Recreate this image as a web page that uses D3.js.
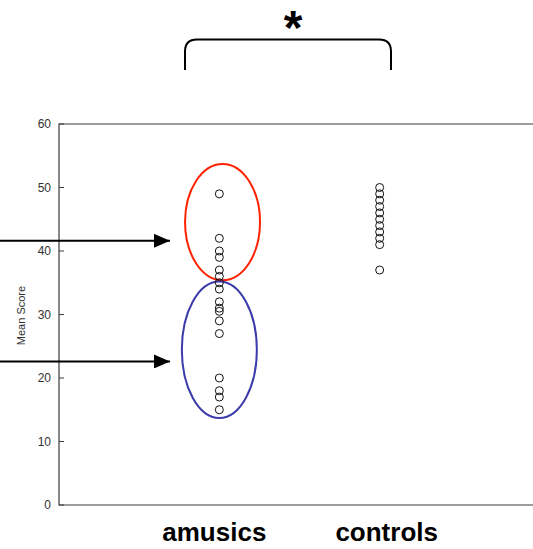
<!DOCTYPE html>
<html>
<head>
<meta charset="utf-8">
<script src="https://cdn.jsdelivr.net/npm/d3@7"></script>
<style>
  body { margin: 0; background: #fff; }
  svg { display: block; font-family: "Liberation Sans", Arial, sans-serif; }
</style>
</head>
<body>
<svg id="chart" width="533" height="549"></svg>
<script>
// Data
const groups = ["amusics", "controls"];
const groupPos = [1, 2];
const amusicsScores = [49, 42, 40, 39, 37, 36, 35, 34, 32, 31, 30.5, 29, 27, 20, 18, 17, 15];
const controlsScores = [50, 49, 48, 47, 46, 45, 44, 43, 42, 41, 37];
const yTicks = [0, 10, 20, 30, 40, 50, 60];
// ellipse annotations (group index, low score, high score)
const clusters = [
  { group: 1, dx: 0.02, lo: 35.4, hi: 53.7, color: "#ff2200" },
  { group: 1, dx: 0, lo: 13.7, hi: 35.2, color: "#3a3aaa" }
];
const arrowScores = [41.6, 22.6];

const svg = d3.select("#chart");
const plotLeft = 59, plotRight = 540, plotTop = 124, plotBottom = 505;

const x = d3.scaleLinear().domain([0, 3]).range([plotLeft, plotRight]);
const y = d3.scaleLinear().domain([0, 60]).range([plotBottom, plotTop]);

// frame: left axis, top and bottom lines
svg.append("path")
   .attr("d", `M533,${plotTop}H${plotLeft}V${plotBottom}H533`)
   .attr("fill", "none")
   .attr("stroke", "#3a3a3a")
   .attr("stroke-width", 1.2);

// y axis ticks (inward) and labels
const yAxis = svg.append("g").attr("transform", `translate(${plotLeft},0)`);
yAxis.selectAll("line")
     .data(yTicks)
     .enter().append("line")
     .attr("x1", 0).attr("x2", 5)
     .attr("y1", d => y(d)).attr("y2", d => y(d))
     .attr("stroke", "#3a3a3a");
yAxis.selectAll("text")
     .data(yTicks)
     .enter().append("text")
     .attr("x", -8)
     .attr("y", d => y(d) + 4)
     .attr("text-anchor", "end")
     .style("font-size", "12px")
     .style("fill", "#333")
     .text(d => d);

svg.append("text")
   .attr("transform", `translate(25,${(plotTop + plotBottom) / 2 + 1}) rotate(-90)`)
   .attr("text-anchor", "middle")
   .style("font-size", "11px")
   .style("fill", "#333")
   .text("Mean Score");

// ellipses
svg.append("g").selectAll("ellipse")
   .data(clusters)
   .enter().append("ellipse")
   .attr("cx", d => x(d.group + d.dx))
   .attr("cy", d => (y(d.lo) + y(d.hi)) / 2)
   .attr("rx", 37.5)
   .attr("ry", d => (y(d.lo) - y(d.hi)) / 2)
   .attr("fill", "none")
   .attr("stroke", d => d.color)
   .attr("stroke-width", 2);

// points
const points = [
  ...amusicsScores.map(v => ({ g: groupPos[0], v })),
  ...controlsScores.map(v => ({ g: groupPos[1], v }))
];
svg.append("g").selectAll("circle")
   .data(points)
   .enter().append("circle")
   .attr("cx", d => x(d.g))
   .attr("cy", d => y(d.v))
   .attr("r", 4)
   .attr("fill", "none")
   .attr("stroke", "#111")
   .attr("stroke-width", 1);

// arrows from the left edge
svg.append("defs").append("marker")
   .attr("id", "head")
   .attr("viewBox", "0 0 16 14")
   .attr("refX", 16).attr("refY", 7)
   .attr("markerWidth", 16).attr("markerHeight", 14)
   .attr("markerUnits", "userSpaceOnUse")
   .attr("orient", "auto")
   .append("path").attr("d", "M0,0L16,7L0,14Z").attr("fill", "#000");
svg.append("g").selectAll("line")
   .data(arrowScores)
   .enter().append("line")
   .attr("x1", 0).attr("x2", 170)
   .attr("y1", d => y(d)).attr("y2", d => y(d))
   .attr("stroke", "#000")
   .attr("stroke-width", 2)
   .attr("marker-end", "url(#head)");

// category labels
svg.append("g").selectAll("text")
   .data(groups)
   .enter().append("text")
   .attr("x", (d, i) => x(groupPos[i]) + (i === 0 ? -5 : 7))
   .attr("y", 541)
   .attr("text-anchor", "middle")
   .style("font-size", "26px")
   .style("font-weight", "bold")
   .style("fill", "#000")
   .text(d => d);

// significance bracket
const bx0 = 185, bx1 = 391, by = 39.5, bEnd = 70, rr = 12;
svg.append("path")
   .attr("d", `M${bx0},${bEnd}V${by + rr}Q${bx0},${by} ${bx0 + rr},${by}H${bx1 - rr}Q${bx1},${by} ${bx1},${by + rr}V${bEnd}`)
   .attr("fill", "none")
   .attr("stroke", "#000")
   .attr("stroke-width", 2);
svg.append("text")
   .attr("x", (bx0 + bx1) / 2 + 5)
   .attr("y", 44)
   .attr("text-anchor", "middle")
   .style("font-size", "48px")
   .style("font-weight", "bold")
   .text("*");
</script>
</body>
</html>
